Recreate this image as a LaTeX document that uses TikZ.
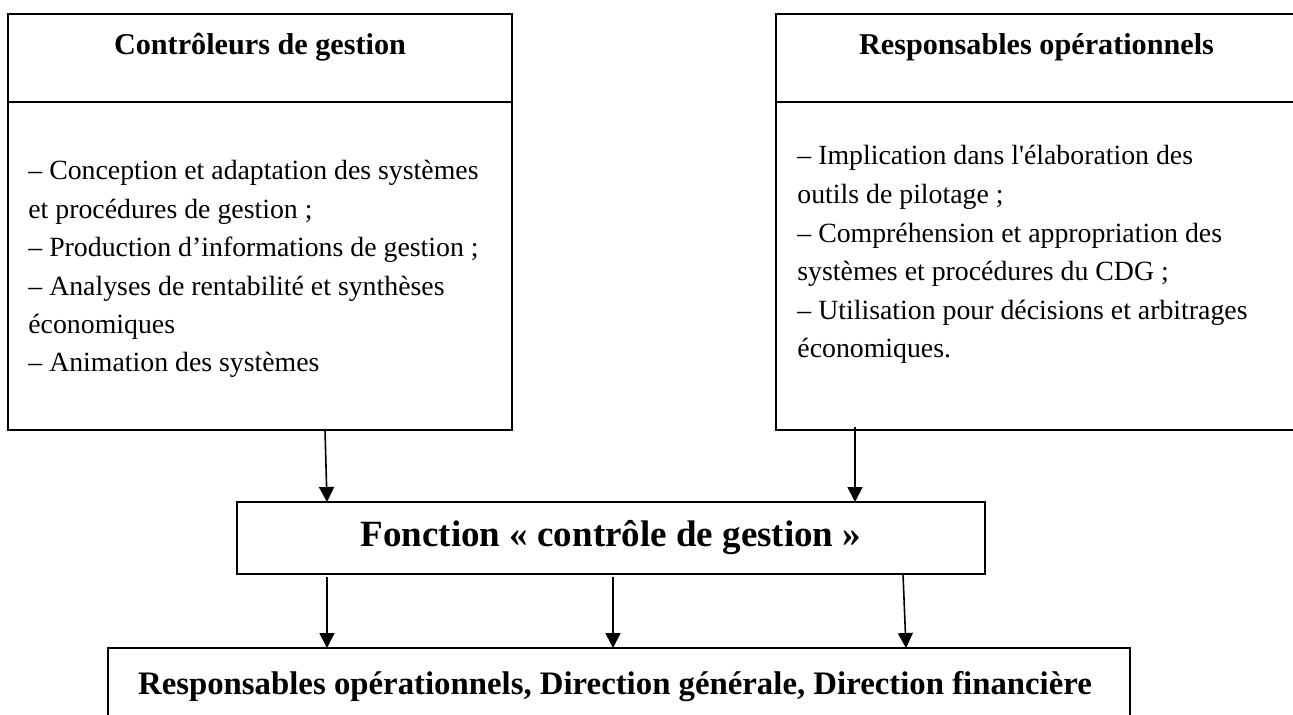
\documentclass[tikz,border=0pt]{standalone}
\usepackage{fontspec}
\setmainfont{Liberation Serif}[Ligatures=TeXOff]
\usetikzlibrary{arrows.meta,calc}
\begin{document}
\begin{tikzpicture}[x=0.5pt,y=-0.5pt,
  panel/.style={draw,line width=0.9pt,inner sep=0pt,outer sep=0pt,anchor=north west},
  arr/.style={-{Triangle[width=7.5pt,length=7.5pt]},line width=0.8pt},
  head/.style={font=\fontsize{15.1pt}{18pt}\selectfont\bfseries,inner sep=0pt,anchor=base},
  body/.style={inner sep=0pt,anchor=base west},
]
\useasboundingbox (0,0) rectangle (1293,715);
\clip (0,0) rectangle (1293,715);

% Left column: controllers
\node[panel,minimum width=252pt,minimum height=44pt] (cgh) at (8,14) {};
\node[panel,minimum width=252pt,minimum height=164pt] (cgb) at (8,102) {};
\node[head] (cgtitle) at ($(cgh.north)+(0,41)$) {Contrôleurs de gestion};
\node[body] (cgtext) at ($(cgb.north west)+(20,78)$) {\parbox[t]{250pt}{\fontsize{13.9pt}{19.2pt}\selectfont\raggedright
– Conception et adaptation des systèmes\\
et procédures de gestion ;\\
– Production d’informations de gestion ;\\
– Analyses de rentabilité et synthèses\\
économiques\\
– Animation des systèmes}};

% Right column: operational managers
\node[panel,minimum width=260.5pt,minimum height=44pt] (roh) at (776,14) {};
\node[panel,minimum width=260.5pt,minimum height=164pt] (rob) at (776,102) {};
\node[head] (rotitle) at ($(roh.north)+(0,41)$) {Responsables opérationnels};
\node[body] (rotext) at ($(rob.north west)+(21,63)$) {\parbox[t]{250pt}{\fontsize{13.9pt}{19.3pt}\selectfont\raggedright
– Implication dans l'élaboration des\\
outils de pilotage ;\\
– Compréhension et appropriation des\\
systèmes et procédures du CDG ;\\
– Utilisation pour décisions et arbitrages\\
économiques.}};

% Central function
\node[panel,minimum width=374pt,minimum height=36pt,
      font=\fontsize{18.5pt}{22pt}\selectfont\bfseries] (fn) at (237,502)
  {Fonction « contrôle de gestion »};

% Recipients
\node[panel,minimum width=511pt,minimum height=56pt] (bot) at (108,648) {};
\node[anchor=base,inner sep=0pt,font=\fontsize{16.4pt}{20pt}\selectfont\bfseries] (bottext)
  at ($(bot.north west)+(507,46)$)
  {Responsables opérationnels, Direction générale, Direction financière};

% Flows
\draw[arr] ($(cgb.south west)+(317,0)$) -- ($(fn.north west)+(90,0)$);
\draw[arr] ($(rob.south west)+(79,-3)$) -- ($(fn.north west)+(618,0)$);
\draw[arr] ($(fn.south west)+(90,3)$) -- ($(bot.north west)+(219,0)$);
\draw[arr] ($(fn.south west)+(376,3)$) -- ($(bot.north west)+(505,0)$);
\draw[arr] ($(fn.south west)+(666,0)$) -- ($(bot.north west)+(798,0)$);
\end{tikzpicture}
\end{document}
